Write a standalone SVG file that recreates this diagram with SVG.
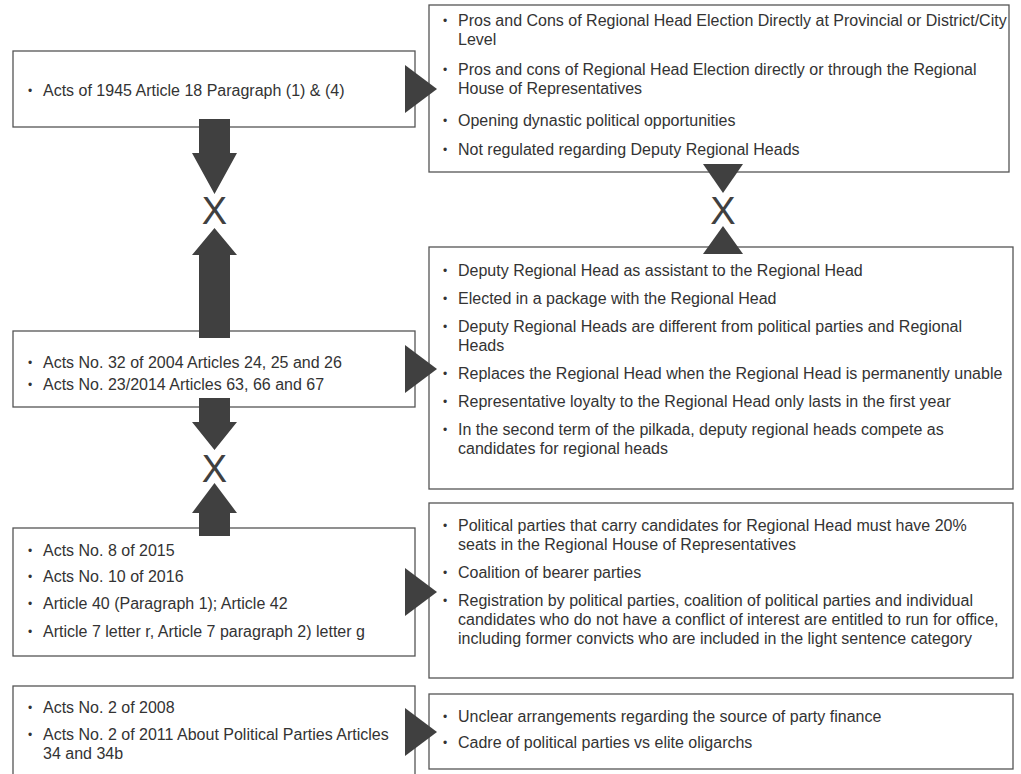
<svg xmlns="http://www.w3.org/2000/svg" width="1021" height="774" viewBox="0 0 1021 774">
<style>
.box{fill:#fff;stroke:#555;stroke-width:1.3}
.t{font-family:"Liberation Sans",Arial,sans-serif;font-size:16px;fill:#333}
.b{font-family:"Liberation Sans",Arial,sans-serif;font-size:12px;fill:#333}
.ar{fill:#404040}
.x{font-family:"Liberation Sans",Arial,sans-serif;font-size:38px;fill:#404040;text-anchor:middle}
</style>
<rect width="1021" height="774" fill="#fff"/>
<g id="node-acts1945">
<rect class="box" x="13" y="51" width="402" height="76"/>
<text class="b" x="28" y="95">•</text><text class="t" x="43" y="96">Acts of 1945 Article 18 Paragraph (1) &amp; (4)</text>
</g>
<g id="node-pros-cons">
<rect class="box" x="429" y="5" width="580" height="167"/>
<text class="b" x="443" y="25">•</text><text class="t" x="458" y="26">Pros and Cons of Regional Head Election Directly at Provincial or District/City</text>
<text class="t" x="458" y="45">Level</text>
<text class="b" x="443" y="74">•</text><text class="t" x="458" y="75">Pros and cons of Regional Head Election directly or through the Regional</text>
<text class="t" x="458" y="94">House of Representatives</text>
<text class="b" x="443" y="125">•</text><text class="t" x="458" y="126">Opening dynastic political opportunities</text>
<text class="b" x="443" y="154">•</text><text class="t" x="458" y="155">Not regulated regarding Deputy Regional Heads</text>
</g>
<g id="node-acts2004">
<rect class="box" x="13" y="331" width="402" height="76"/>
<text class="b" x="28" y="367">•</text><text class="t" x="43" y="368">Acts No. 32 of 2004 Articles 24, 25 and 26</text>
<text class="b" x="28" y="389">•</text><text class="t" x="43" y="390">Acts No. 23/2014 Articles 63, 66 and 67</text>
</g>
<g id="node-deputy">
<rect class="box" x="429" y="247" width="584" height="242"/>
<text class="b" x="443" y="275">•</text><text class="t" x="458" y="276">Deputy Regional Head as assistant to the Regional Head</text>
<text class="b" x="443" y="303">•</text><text class="t" x="458" y="304">Elected in a package with the Regional Head</text>
<text class="b" x="443" y="331">•</text><text class="t" x="458" y="332">Deputy Regional Heads are different from political parties and Regional</text>
<text class="t" x="458" y="351">Heads</text>
<text class="b" x="443" y="378">•</text><text class="t" x="458" y="379">Replaces the Regional Head when the Regional Head is permanently unable</text>
<text class="b" x="443" y="406">•</text><text class="t" x="458" y="407">Representative loyalty to the Regional Head only lasts in the first year</text>
<text class="b" x="443" y="434">•</text><text class="t" x="458" y="435">In the second term of the pilkada, deputy regional heads compete as</text>
<text class="t" x="458" y="454">candidates for regional heads</text>
</g>
<g id="node-acts2015">
<rect class="box" x="13" y="528" width="402" height="128"/>
<text class="b" x="28" y="555">•</text><text class="t" x="43" y="556">Acts No. 8 of 2015</text>
<text class="b" x="28" y="581">•</text><text class="t" x="43" y="582">Acts No. 10 of 2016</text>
<text class="b" x="28" y="608">•</text><text class="t" x="43" y="609">Article 40 (Paragraph 1); Article 42</text>
<text class="b" x="28" y="636">•</text><text class="t" x="43" y="637">Article 7 letter r, Article 7 paragraph 2) letter g</text>
</g>
<g id="node-parties">
<rect class="box" x="429" y="503" width="584" height="175"/>
<text class="b" x="443" y="530">•</text><text class="t" x="458" y="531">Political parties that carry candidates for Regional Head must have 20%</text>
<text class="t" x="458" y="550">seats in the Regional House of Representatives</text>
<text class="b" x="443" y="577">•</text><text class="t" x="458" y="578">Coalition of bearer parties</text>
<text class="b" x="443" y="605">•</text><text class="t" x="458" y="606">Registration by political parties, coalition of political parties and individual</text>
<text class="t" x="458" y="625">candidates who do not have a conflict of interest are entitled to run for office,</text>
<text class="t" x="458" y="644">including former convicts who are included in the light sentence category</text>
</g>
<g id="node-acts2008">
<rect class="box" x="13" y="686" width="402" height="100"/>
<text class="b" x="28" y="712">•</text><text class="t" x="43" y="713">Acts No. 2 of 2008</text>
<text class="b" x="28" y="739">•</text><text class="t" x="43" y="740">Acts No. 2 of 2011 About Political Parties Articles</text>
<text class="t" x="43" y="759">34 and 34b</text>
</g>
<g id="node-finance">
<rect class="box" x="429" y="694" width="584" height="75"/>
<text class="b" x="443" y="721">•</text><text class="t" x="458" y="722">Unclear arrangements regarding the source of party finance</text>
<text class="b" x="443" y="747">•</text><text class="t" x="458" y="748">Cadre of political parties vs elite oligarchs</text>
</g>
<g id="connectors">
<polygon class="ar" points="405,65 437,89 405,113"/>
<polygon class="ar" points="405,345 437,369 405,393"/>
<polygon class="ar" points="405,568 437,592 405,616"/>
<polygon class="ar" points="405,708 437,732 405,756"/>
<polygon class="ar" points="199,119 230,119 230,153 237,153 214.5,194 192,153 199,153"/>
<text class="x" x="214.5" y="223.5">X</text>
<polygon class="ar" points="214.5,228 237,255 230,255 230,338 199,338 199,255 192,255"/>
<polygon class="ar" points="199,398 230,398 230,422 237,422 214.5,450 192,422 199,422"/>
<text class="x" x="214.5" y="481.5">X</text>
<polygon class="ar" points="214.5,483 237,513 230,513 230,536 199,536 199,513 192,513"/>
<polygon class="ar" points="703,164 743,164 723,193"/>
<text class="x" x="723" y="223.5">X</text>
<polygon class="ar" points="723,226 743,254 703,254"/>
</g>
</svg>
